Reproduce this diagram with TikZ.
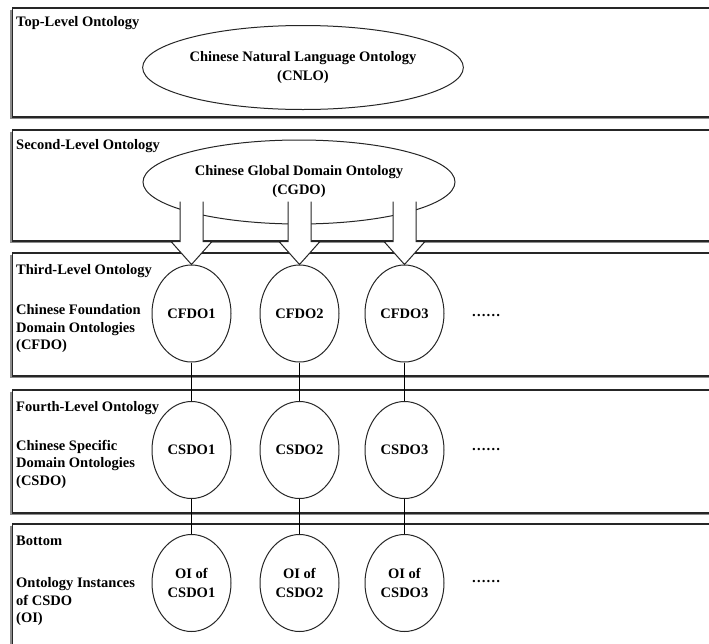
\documentclass[tikz,border=0pt]{standalone}
\usepackage{fontspec}
\setmainfont{Liberation Serif}
\usetikzlibrary{calc,shapes.geometric}
\newcommand\ontoarrow[1]{%
  \fill[white] ($(#1.north)+(-11.5,-63)$) -- ($(#1.north)+(-11.5,-23)$) -- ($(#1.north)+(-20.5,-23)$) -- (#1.north) -- ($(#1.north)+(20.5,-23)$) -- ($(#1.north)+(11.5,-23)$) -- ($(#1.north)+(11.5,-63)$) -- cycle;
  \draw[arrowline] ($(#1.north)+(-11.5,-63)$) -- ($(#1.north)+(-11.5,-23)$) -- ($(#1.north)+(-20.5,-23)$) -- (#1.north) -- ($(#1.north)+(20.5,-23)$) -- ($(#1.north)+(11.5,-23)$) -- ($(#1.north)+(11.5,-63)$);
}
\tikzset{
  levelbox/.style={draw=black!85, line width=1.2pt},
  boxshadow/.style={draw=black!45, line width=1.4pt},
  lvl/.style={anchor=west, inner sep=0pt, font=\fontsize{14.5}{18}\selectfont\bfseries},
  desc/.style={anchor=west, inner sep=0pt, align=left, font=\fontsize{14.5}{17.5}\selectfont\bfseries},
  bigell/.style={ellipse, draw=black!85, line width=1pt, fill=white, minimum width=312pt, minimum height=84pt, inner sep=0pt, align=center, font=\fontsize{14.5}{19}\selectfont\bfseries},
  onto/.style={ellipse, draw=black!85, line width=1pt, fill=white, minimum width=79pt, minimum height=97pt, inner sep=0pt, align=center, font=\fontsize{14.5}{19}\selectfont\bfseries},
  dots/.style={inner sep=0pt, font=\fontsize{14.5}{18}\selectfont\bfseries},
  arrowline/.style={draw=black!85, line width=1pt, line join=miter},
  link/.style={draw=black, line width=1.4pt}
}
\begin{document}
\begin{tikzpicture}[x=1pt,y=-1pt]
\clip (0,0) rectangle (709,643);
\fill[white] (0,0) rectangle (709,643);
% level boxes (extend past right edge)
\foreach \t/\b in {8/117,130/241,253/376,390/513,524/680}{
  \draw[boxshadow] (11,\t+1.5) -- (11,\b+1.5) -- (730,\b+1.5);
  \draw[levelbox] (12.5,\t) rectangle (730,\b);
}
% level titles
\node[lvl] (t1) at (16,23) {Top-Level Ontology};
\node[lvl] (t2) at (16,146) {Second-Level Ontology};
\node[lvl] (t3) at (16,271) {Third-Level Ontology};
\node[lvl] (t4) at (16,408) {Fourth-Level Ontology};
\node[lvl] (t5) at (16,541) {Bottom};
\node[desc] (d3) at (16,329) {Chinese Foundation\\Domain Ontologies\\(CFDO)};
\node[desc] (d4) at (16,464) {Chinese Specific\\Domain Ontologies\\(CSDO)};
\node[desc] (d5) at (16,602) {Ontology Instances\\of CSDO\\(OI)};
% big ellipses
\node[bigell] (cnlo) at (303,67.5) {Chinese Natural Language Ontology\\(CNLO)};
\node[bigell] (cgdo) at (299,182) {Chinese Global Domain Ontology\\(CGDO)};
% ontology circles
\node[onto] (f1) at (191.5,313.5) {CFDO1};
\node[onto] (f2) at (299.5,313.5) {CFDO2};
\node[onto] (f3) at (404.5,313.5) {CFDO3};
\node[onto] (s1) at (191.5,450) {CSDO1};
\node[onto] (s2) at (299.5,450) {CSDO2};
\node[onto] (s3) at (404.5,450) {CSDO3};
\node[onto] (o1) at (191.5,583) {OI of\\CSDO1};
\node[onto] (o2) at (299.5,583) {OI of\\CSDO2};
\node[onto] (o3) at (404.5,583) {OI of\\CSDO3};
\node[dots] (e3) at (486,316) {……};
\node[dots] (e4) at (486,450) {……};
\node[dots] (e5) at (486,582) {……};
% block arrows from CGDO
\ontoarrow{f1}
\ontoarrow{f2}
\ontoarrow{f3}
% links
\foreach \i in {1,2,3}{
  \draw[link] (f\i.south) -- (s\i.north);
  \draw[link] (s\i.south) -- (o\i.north);
}
\end{tikzpicture}
\end{document}
